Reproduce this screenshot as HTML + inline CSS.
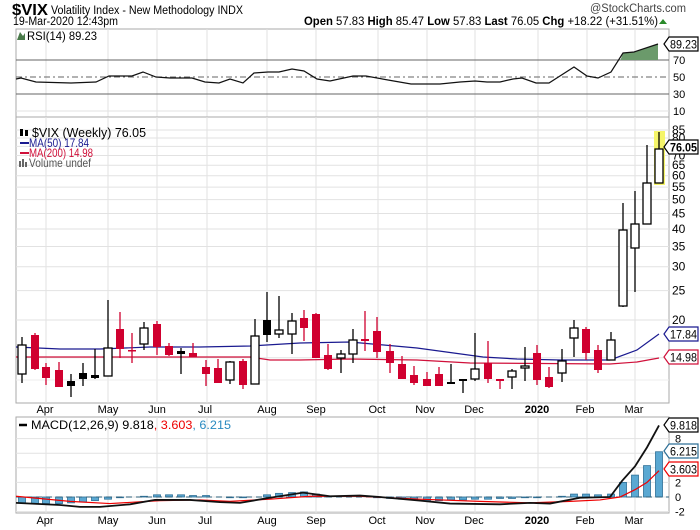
<!DOCTYPE html>
<html><head><meta charset="utf-8"><style>
html,body{margin:0;padding:0;background:#fff;}
svg{display:block;font-family:"Liberation Sans",Arial,sans-serif;}
</style></head><body>
<svg id="s" width="700" height="530" viewBox="0 0 700 530" xmlns="http://www.w3.org/2000/svg">
<rect width="700" height="530" fill="#fff"/>
<text x="12" y="15" font-size="16" font-weight="bold" textLength="36" lengthAdjust="spacingAndGlyphs">$VIX</text>
<text x="51" y="14" font-size="11.5" textLength="192" lengthAdjust="spacingAndGlyphs">Volatility Index - New Methodology  INDX</text>
<text x="13" y="25" font-size="11.5" textLength="105" lengthAdjust="spacingAndGlyphs">19-Mar-2020 12:43pm</text>
<text x="590" y="12" font-size="11.5" fill="#444" textLength="96" lengthAdjust="spacingAndGlyphs">@StockCharts.com</text>
<text x="304" y="25" font-size="11.5" textLength="354" lengthAdjust="spacingAndGlyphs"><tspan font-weight="bold">Open</tspan> 57.83  <tspan font-weight="bold">High</tspan> 85.47  <tspan font-weight="bold">Low</tspan> 57.83  <tspan font-weight="bold">Last</tspan> 76.05  <tspan font-weight="bold">Chg</tspan> +18.22 (+31.51%)</text>
<polygon points="659,24 667,24 663,19" fill="#2a8a2a"/>
<g id="g"></g>
</svg>
<script>
const NS="http://www.w3.org/2000/svg",G=document.getElementById('g');
function el(t,a,txt){const e=document.createElementNS(NS,t);for(const k in a)e.setAttribute(k,a[k]);if(txt!==undefined)e.textContent=txt;G.appendChild(e);return e;}
const L=16,R=669;
const vx=[46,108,157,207,267,316,378,427,475,538,587,635];
const mlab=[["Apr",45],["May",108],["Jun",157],["Jul",205],["Aug",267],["Sep",316],["Oct",377],["Nov",425],["Dec",474],["2020",537],["Feb",585],["Mar",634]];
function panel(t,b){el('rect',{x:L,y:t,width:R-L,height:b-t,fill:'#fff',stroke:'#aaa','stroke-width':1});
 vx.forEach(x=>el('line',{x1:x,x2:x,y1:t,y2:b,stroke:'#e2e2e2'}));}
// RSI panel
panel(29,117);
el('line',{x1:L,x2:R,y1:111,y2:111,stroke:'#e2e2e2'});
el('line',{x1:L,x2:R,y1:60,y2:60,stroke:'#666'});
el('line',{x1:L,x2:R,y1:94,y2:94,stroke:'#666'});
el('line',{x1:L,x2:R,y1:77,y2:77,stroke:'#666','stroke-dasharray':'6,3,2,3'});
[["70",64],["50",81],["30",98],["10",115]].forEach(a=>el('text',{x:673,y:a[1],'font-size':11},a[0]));
const rsi=[[16,79],[21,78],[36,82],[71,83],[96,82],[109,76],[132,76],[143,72],[156,77],[170,78],[192,78],[205,82],[219,83],[230,79],[243,83],[254,73],[268,72],[279,72],[292,69],[304,71],[317,79],[330,81],[353,76],[366,76],[388,80],[411,84],[440,84],[460,82],[475,81],[487,82],[500,82],[513,79],[522,78],[536,83],[549,83],[574,67],[587,76],[598,78],[611,72],[623,53],[634,52],[658,44]];
el('polygon',{points:"620.5,60 623,53 634,52 658,44 658,60",fill:'#6b9a6b'});
el('polyline',{points:rsi.map(p=>p.join(',')).join(' '),fill:'none',stroke:'#111','stroke-width':1.2});
el('text',{x:27,y:40,'font-size':12,textLength:70,lengthAdjust:'spacingAndGlyphs'},"RSI(14) 89.23");
el('polygon',{points:"17,40 20,32 23,36 25,33 25,40",fill:'#4a7a4a'});
// Main panel
panel(117,403);
const yv=v=>713.3-131.3*Math.log(v);
[85,80,75,70,65,60,55,50,45,40,35,30,25,20,15].forEach(v=>{const y=yv(v);el('line',{x1:L,x2:R,y1:y,y2:y,stroke:'#e2e2e2'});
 if(v!==15&&v!==75)el('text',{x:672,y:y+4,'font-size':12},String(v));});
el('line',{x1:L,x2:R,y1:380,y2:380,stroke:'#ececec'});
const ma50=[[16,347],[60,349],[100,349],[150,347],[200,347],[250,346],[300,343],[350,342],[417,348],[483,357],[517,359],[560,360],[610,360],[637,350],[659,334]];
const ma200=[[16,357],[250,357],[270,360],[300,360],[350,359],[417,360],[470,363],[610,364],[637,362],[659,358]];
el('polyline',{points:ma200.map(p=>p.join(',')).join(' '),fill:'none',stroke:'#d0103a','stroke-width':1.2});
el('polyline',{points:ma50.map(p=>p.join(',')).join(' '),fill:'none',stroke:'#1a1a90','stroke-width':1.2});
el('rect',{x:654,y:131,width:11,height:54,fill:'#f5f56a'});
const C=[[22,'h',345,374,337,383],[35,'r',335,369,333,370],[46,'r',367,378,363,385],[59,'r',370,387,362,387],[71,'k',381,386,374,397],[83,'k',373,379,363,386],[95,'k',375,378,349,379],[108,'h',348,376,300,376],[120,'r',329,349,312,358],[132,'r',350,351,333,363],[144,'h',328,344,322,350],[157,'r',324,347,321,355],[169,'r',346,355,343,356],[181,'k',351,354,348,374],[193,'r',353,357,343,357],[206,'r',367,374,360,386],[218,'r',368,383,359,383],[230,'h',362,380,361,384],[243,'r',361,385,359,389],[255,'h',336,384,319,384],[267,'k',320,335,292,342],[279,'h',330,334,296,338],[292,'h',321,334,313,354],[304,'r',318,328,310,341],[316,'r',314,358,313,358],[328,'r',355,369,344,370],[341,'h',354,358,350,373],[353,'h',340,354,329,363],[365,'r',339,341,311,351],[377,'r',331,352,317,358],[390,'r',351,363,344,373],[402,'r',364,379,356,379],[414,'r',375,383,366,385],[427,'r',379,386,372,386],[439,'r',374,386,367,386],[451,'k',382,384,364,384],[463,'k',379,381,379,393],[475,'h',369,379,333,381],[488,'r',363,379,341,383],[500,'r',379,381,379,389],[512,'h',371,377,369,389],[525,'h',366,368,347,381],[537,'r',353,380,345,385],[549,'r',377,387,367,388],[562,'h',361,373,349,382],[574,'h',328,338,320,357],[586,'r',329,353,327,360],[598,'r',350,370,345,373],[611,'h',340,360,332,360],[623,'h',230,306,203,307],[635,'h',224,248,191,292],[647,'h',183,224,145,224],[659,'h',149,183,132,183]];
C.forEach(c=>{const [x,t,bt,bb,wt,wb]=c;const col=t==='r'?'#d0002f':'#000';
 el('line',{x1:x,x2:x,y1:wt,y2:wb,stroke:col,'stroke-width':1.3});
 if(t==='h')el('rect',{x:x-4,y:bt,width:8,height:Math.max(bb-bt,1),fill:'#fff',stroke:'#000','stroke-width':1.3});
 else el('rect',{x:x-4,y:bt,width:8,height:Math.max(bb-bt,1.5),fill:col});});
el('text',{x:32,y:137,'font-size':12.5,textLength:114,lengthAdjust:'spacingAndGlyphs'},"$VIX (Weekly) 76.05");
el('rect',{x:20,y:129,width:3,height:7,fill:'#000'});el('rect',{x:25,y:130,width:3,height:6,fill:'#000'});
el('line',{x1:20,x2:29,y1:143,y2:143,stroke:'#1a1a90','stroke-width':2});
el('text',{x:29,y:147,'font-size':12,fill:'#1a1a90',textLength:60,lengthAdjust:'spacingAndGlyphs'},"MA(50) 17.84");
el('line',{x1:20,x2:29,y1:153,y2:153,stroke:'#d0103a','stroke-width':2});
el('text',{x:29,y:157,'font-size':12,fill:'#d0103a',textLength:64,lengthAdjust:'spacingAndGlyphs'},"MA(200) 14.98");
el('rect',{x:19,y:161,width:2,height:6,fill:'#666'});el('rect',{x:22,y:159,width:2,height:8,fill:'#666'});el('rect',{x:25,y:162,width:2,height:5,fill:'#666'});
el('text',{x:29,y:167,'font-size':12,fill:'#555',textLength:62,lengthAdjust:'spacingAndGlyphs'},"Volume undef");
function months(y){mlab.forEach(m=>el('text',{x:m[1],y:y,'font-size':11,'text-anchor':'middle','font-weight':m[0]==='2020'?'bold':'normal'},m[0]));}
months(413);
// MACD
panel(417,513);
const ym=v=>497-7.3*v;
[8,6,4,2,0,-2].forEach(v=>el('line',{x1:L,x2:R,y1:ym(v),y2:ym(v),stroke:'#e2e2e2'}));
[["8",8],["2",2],["0",0],["-2",-2]].forEach(a=>el('text',{x:675,y:ym(a[1])+4,'font-size':11},a[0]));
const H=[-0.8,-0.9,-0.9,-0.9,-0.8,-0.7,-0.5,-0.3,-0.1,0,0.1,0.3,0.3,0.3,0.2,0.2,0,-0.1,-0.1,0,0.3,0.5,0.6,0.7,0.4,0.1,0,0,0,-0.1,-0.2,-0.3,-0.4,-0.5,-0.5,-0.4,-0.4,-0.3,-0.3,-0.2,-0.2,-0.1,-0.1,0,0.1,0.4,0.4,0.3,0.4,2.0,3.0,4.3,6.2];
H.forEach((v,i)=>{const x=C[i][0];const y0=ym(0),y1=ym(v);if(Math.abs(v)<0.05)return;
 el('rect',{x:x-3.5,y:Math.min(y0,y1),width:7,height:Math.abs(y1-y0),fill:'#5aa8d2',stroke:'#2d6f96','stroke-width':0.8});});
el('line',{x1:L,x2:R,y1:ym(0),y2:ym(0),stroke:'#2d5f7a','stroke-dasharray':'6,4','stroke-width':1});
const sig=[[16,0.1],[70,-0.6],[110,-0.9],[160,-0.5],[200,-0.4],[230,-0.6],[270,-0.3],[310,0.1],[360,0.1],[420,-0.3],[480,-0.6],[530,-0.8],[570,-0.6],[600,-0.4],[620,0],[635,1.0],[647,2.0],[659,3.6]];
const mac=[[16,-0.8],[60,-1.1],[80,-1.35],[100,-1.35],[130,-1.0],[155,-0.4],[190,-0.4],[220,-0.7],[240,-0.8],[270,-0.1],[303,0.6],[330,0.1],[360,0.2],[380,0],[420,-0.5],[450,-0.9],[500,-1.0],[530,-0.8],[550,-0.9],[580,-0.1],[610,0],[622,2.2],[635,4.2],[647,6.8],[659,9.8]];
el('polyline',{points:sig.map(p=>p[0]+','+ym(p[1])).join(' '),fill:'none',stroke:'#e00','stroke-width':1.2});
el('polyline',{points:mac.map(p=>p[0]+','+ym(p[1])).join(' '),fill:'none',stroke:'#111','stroke-width':1.8});
el('line',{x1:19,x2:27,y1:425,y2:425,stroke:'#000','stroke-width':2.5});
const t=el('text',{x:31,y:429,'font-size':12,textLength:200,lengthAdjust:'spacingAndGlyphs'});
t.innerHTML='MACD(12,26,9) 9.818<tspan fill="#e00">, 3.603</tspan><tspan fill="#2a8ac0">, 6.215</tspan>';
months(524);
function tag(y,txt,col,bold){el('polygon',{points:`664,${y} 669,${y-7} 698,${y-7} 698,${y+7} 669,${y+7}`,fill:'#fff',stroke:col,'stroke-width':1.2});
 el('text',{x:670,y:y+4.5,'font-size':12,'font-weight':bold?'bold':'normal',fill:'#000',textLength:27,lengthAdjust:'spacingAndGlyphs'},txt);}
tag(44,"89.23","#000");tag(147,"76.05","#000",true);tag(334,"17.84","#1a1a90");tag(357,"14.98","#d0103a");
tag(425,"9.818","#000");tag(451,"6.215","#2d6f96");tag(469,"3.603","#e00");
</script>
</body></html>
